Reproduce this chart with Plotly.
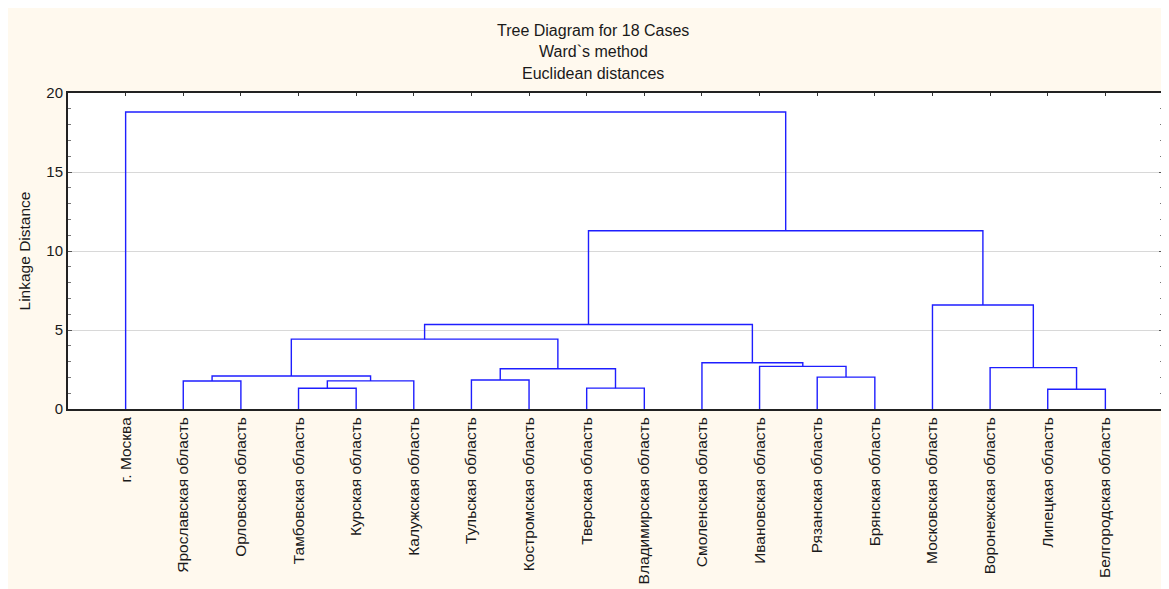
import plotly.graph_objects as go

# ---- data ----
labels = ["г. Москва", "Ярославская область", "Орловская область", "Тамбовская область",
          "Курская область", "Калужская область", "Тульская область", "Костромская область",
          "Тверская область", "Владимирская область", "Смоленская область", "Ивановская область",
          "Рязанская область", "Брянская область", "Московская область", "Воронежская область",
          "Липецкая область", "Белгородская область"]

# merges: (left cluster id, right cluster id) ; new cluster ids start at len(labels)
merge_left = [16, 3, 8, 1, 19, 6, 12, 21, 23, 15, 11, 10, 25, 30, 14, 31, 0]
merge_right = [17, 4, 9, 2, 5, 7, 13, 22, 20, 18, 24, 28, 26, 29, 27, 32, 33]
merge_height = [1.25, 1.31, 1.32, 1.77, 1.78, 1.84, 2.02, 2.09, 2.55, 2.62, 2.70, 2.93,
                4.42, 5.35, 6.58, 11.28, 18.8]

title_lines = ["Tree Diagram for 18 Cases", "Ward`s method", "Euclidean distances"]
y_title = "Linkage Distance"

# ---- build dendrogram segments ----
n = len(labels)
pos = {i: i + 1 for i in range(n)}
hgt = {i: 0.0 for i in range(n)}
xs, ys = [], []
for k, (a, b, h) in enumerate(zip(merge_left, merge_right, merge_height)):
    xa, xb = pos[a], pos[b]
    xs += [xa, xa, xb, xb, None]
    ys += [hgt[a], h, h, hgt[b], None]
    pos[n + k] = (xa + xb) / 2
    hgt[n + k] = h

FONT = "Liberation Sans, Arial, sans-serif"
CREAM = "#FFF9EE"
TXT = "#1a1a1a"

fig = go.Figure()
fig.add_trace(go.Scatter(x=xs, y=ys, mode="lines",
                         line=dict(color="#1E1EFF", width=1.4),
                         hoverinfo="skip", showlegend=False))
# invisible trace for mirrored axes
fig.add_trace(go.Scatter(x=[1], y=[0], xaxis="x2", yaxis="y2", mode="markers",
                         marker=dict(opacity=0), hoverinfo="skip", showlegend=False))

L, T, PW, PH = 60, 85, 1095, 316
FW, FH = 1169, 589

fig.update_layout(
    width=FW, height=FH,
    margin=dict(l=L, r=FW - L - PW, t=T, b=FH - T - PH),
    paper_bgcolor=CREAM, plot_bgcolor="white",
    font=dict(family=FONT, size=16, color=TXT),
    showlegend=False,
    xaxis=dict(range=[0, 19], tickmode="array", tickvals=list(range(1, n + 1)),
               ticktext=labels, tickangle=-90, showgrid=False, zeroline=False,
               showline=True, linecolor="#222222", linewidth=2, ticks="",
               tickfont=dict(size=15.5, family=FONT, color=TXT), fixedrange=True),
    yaxis=dict(range=[0, 20], tickmode="linear", tick0=0, dtick=5,
               showgrid=True, gridcolor="#D8D8D8", gridwidth=1, zeroline=False,
               showline=True, linecolor="#222222", linewidth=2,
               ticks="inside", ticklen=4, tickcolor="#555555",
               minor=dict(dtick=1, ticks="inside", ticklen=3, tickcolor="#777777", showgrid=False),
               tickfont=dict(size=15, family=FONT, color=TXT),
               title=dict(text=y_title, font=dict(size=15.5, family=FONT, color=TXT), standoff=12),
               fixedrange=True),
    xaxis2=dict(range=[0, 19], overlaying="x", side="top", tickmode="array",
                tickvals=list(range(1, n + 1)), ticks="inside", ticklen=3, tickcolor="#333333",
                showticklabels=False, showgrid=False, zeroline=False,
                showline=True, linecolor="#222222", linewidth=2, fixedrange=True),
    yaxis2=dict(range=[0, 20], overlaying="y", side="right", anchor="x2",
                tickmode="linear", tick0=0, dtick=5, ticks="inside", ticklen=4, tickcolor="#555555",
                minor=dict(dtick=1, ticks="inside", ticklen=3, tickcolor="#777777", showgrid=False),
                showticklabels=False, showgrid=False, zeroline=False,
                showline=True, linecolor="#222222", linewidth=2, fixedrange=True),
)

# title lines
for i, t in enumerate(title_lines):
    fig.add_annotation(text=t, xref="paper", yref="paper",
                       x=(585 - L) / PW, y=1 + (T - (22 + 21.5 * i)) / PH,
                       showarrow=False, xanchor="center", yanchor="middle",
                       font=dict(size=16, family=FONT, color=TXT))

fig.write_html("out.html")
